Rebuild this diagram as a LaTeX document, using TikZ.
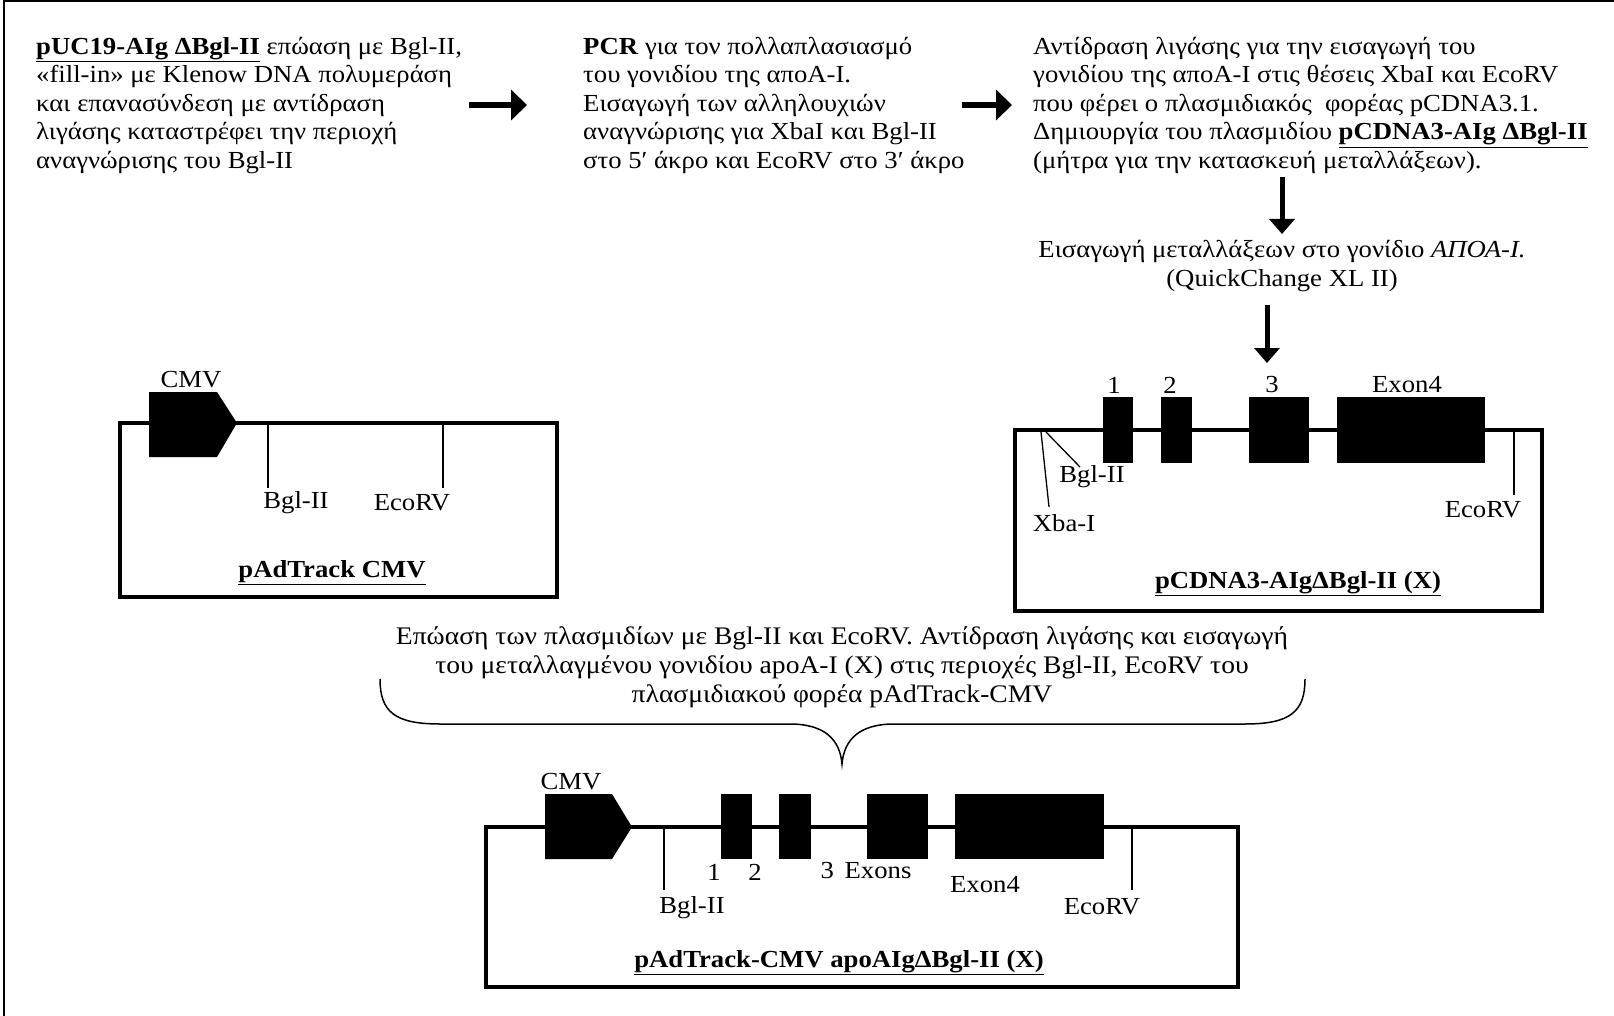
\documentclass[tikz,border=0pt]{standalone}
\usepackage{fontspec}
\setmainfont{Liberation Serif}[FakeStretch=1.09]
\usetikzlibrary{arrows.meta}
\begin{document}
\begin{tikzpicture}[x=1pt,y=-1pt,
  txt/.style={font=\fontsize{24.5}{28.5}\selectfont, inner sep=0pt},
  blk/.style={txt, align=left, anchor=north west},
  plas/.style={line width=4.5pt},
  tick/.style={line width=1.3pt},
  harr/.style={line width=6pt, -{Triangle[length=16pt,width=30pt]}},
  varr/.style={line width=5pt, -{Triangle[length=15pt,width=25pt]}},
  lbl/.style={txt, anchor=center},
  ttl/.style={txt, anchor=center, font=\fontsize{24.5}{28.5}\selectfont\bfseries}
]
\useasboundingbox (0,0) rectangle (1614,1016);
% frame
\draw[line width=1.5pt] (4,1016) -- (4,1) -- (1614,1);

% top text blocks
\node[blk] (b1) at (36,37) {\textbf{\underline{pUC19-AIg ΔBgl-II}} επώαση με Bgl-II,\\
«fill-in» με Klenow DNA πολυμεράση\\
και επανασύνδεση με αντίδραση\\
λιγάσης καταστρέφει την περιοχή\\
αναγνώρισης του Bgl-II};
\node[blk] (b2) at (583,37) {\textbf{PCR} για τον πολλαπλασιασμό\\
του γονιδίου της αποΑ-Ι.\\
Εισαγωγή των αλληλουχιών\\
αναγνώρισης για XbaI και Bgl-II\\
στο 5′ άκρο και EcoRV στο 3′ άκρο};
\node[blk] (b3) at (1033,37) {Αντίδραση λιγάσης για την εισαγωγή του\\
γονιδίου της αποΑ-Ι στις θέσεις XbaI και EcoRV\\
που φέρει ο πλασμιδιακός \ φορέας pCDNA3.1.\\
Δημιουργία του πλασμιδίου \textbf{\underline{pCDNA3-AIg ΔBgl-II}}\\
(μήτρα για την κατασκευή μεταλλάξεων).};
\node[txt, align=center] (mut) at (1282,266) {Εισαγωγή μεταλλάξεων στο γονίδιο \textit{ΑΠΟΑ-Ι.}\\
(QuickChange XL II)};

% arrows
\coordinate (a1s) at (469,105); \coordinate (a1e) at (527,105);
\coordinate (a2s) at (962,105); \coordinate (a2e) at (1012,105);
\coordinate (d1s) at (1282,177); \coordinate (d1e) at (1282,234);
\coordinate (d2s) at (1267,305); \coordinate (d2e) at (1267,363);
\draw[harr] (a1s) -- (a1e);
\draw[harr] (a2s) -- (a2e);
\draw[varr] (d1s) -- (d1e);
\draw[varr] (d2s) -- (d2e);

% left plasmid pAdTrack CMV
\draw[plas] (120,423) rectangle (557,597);
\fill (149,392) -- (217,392) -- (237,423) -- (217,457) -- (149,457) -- cycle;
\draw[tick] (268,423) -- (268,488);
\draw[tick] (443,423) -- (443,488);
\node[lbl] (lcmv) at (191,380) {CMV};
\node[lbl] (lbgl) at (296,503) {Bgl-II};
\node[lbl] (leco) at (412,503) {EcoRV};
\node[ttl] (lttl) at (332,573) {\underline{pAdTrack CMV}};

% right plasmid pCDNA3
\draw[plas] (1015,430) rectangle (1542,611);
\fill (1103,397) rectangle (1133,463);
\fill (1161,397) rectangle (1192,463);
\fill (1249,397) rectangle (1309,463);
\fill (1337,397) rectangle (1485,463);
\draw[tick] (1041,432) -- (1049,507);
\draw[tick] (1046,432) -- (1080,467);
\draw[tick] (1514,432) -- (1514,495);
\node[lbl] (r1) at (1114,385) {1};
\node[lbl] (r2) at (1170,385) {2};
\node[lbl] (r3) at (1272,385) {3};
\node[lbl] (r4) at (1407,385) {Exon4};
\node[lbl] (rbgl) at (1092,477) {Bgl-II};
\node[lbl] (rxba) at (1064,523) {Xba-I};
\node[lbl] (reco) at (1483,510) {EcoRV};
\node[ttl] (rttl) at (1298,584) {\underline{pCDNA3-AIgΔBgl-II (X)}};

% brace and text
\node[txt, font=\fontsize{25.3}{28.8}\selectfont, align=center] (brt) at (842,667) {Επώαση των πλασμιδίων με Bgl-II και EcoRV. Αντίδραση λιγάσης και εισαγωγή\\
του μεταλλαγμένου γονιδίου apoA-I (X) στις περιοχές Bgl-II, EcoRV του\\
πλασμιδιακού φορέα pAdTrack-CMV};
\draw[line width=1.5pt] (380,679) .. controls (380,712) and (395,724) .. (440,724) -- (790,724)
  .. controls (825,724) and (840,740) .. (842,764)
  .. controls (844,740) and (859,724) .. (894,724) -- (1245,724)
  .. controls (1290,724) and (1305,712) .. (1305,679);

% bottom plasmid
\draw[plas] (486,827) rectangle (1238,987);
\fill (545,794) -- (612,794) -- (632,827) -- (612,859) -- (545,859) -- cycle;
\fill (721,794) rectangle (752,859);
\fill (779,794) rectangle (811,859);
\fill (867,794) rectangle (928,859);
\fill (955,794) rectangle (1104,859);
\draw[tick] (664,829) -- (664,890);
\draw[tick] (1132,829) -- (1132,890);
\node[lbl] (bcmv) at (571,782) {CMV};
\node[lbl] (b1l) at (714,872) {1};
\node[lbl] (b2l) at (755,872) {2};
\node[lbl] (b3l) at (866,871) {3 \,Exons};
\node[lbl] (b4l) at (985,885) {Exon4};
\node[lbl] (bbgl) at (692,908) {Bgl-II};
\node[lbl] (beco) at (1102,907) {EcoRV};
\node[ttl] (bttl) at (839,963) {\underline{pAdTrack-CMV apoAIgΔBgl-II (X)}};
\end{tikzpicture}
\end{document}
